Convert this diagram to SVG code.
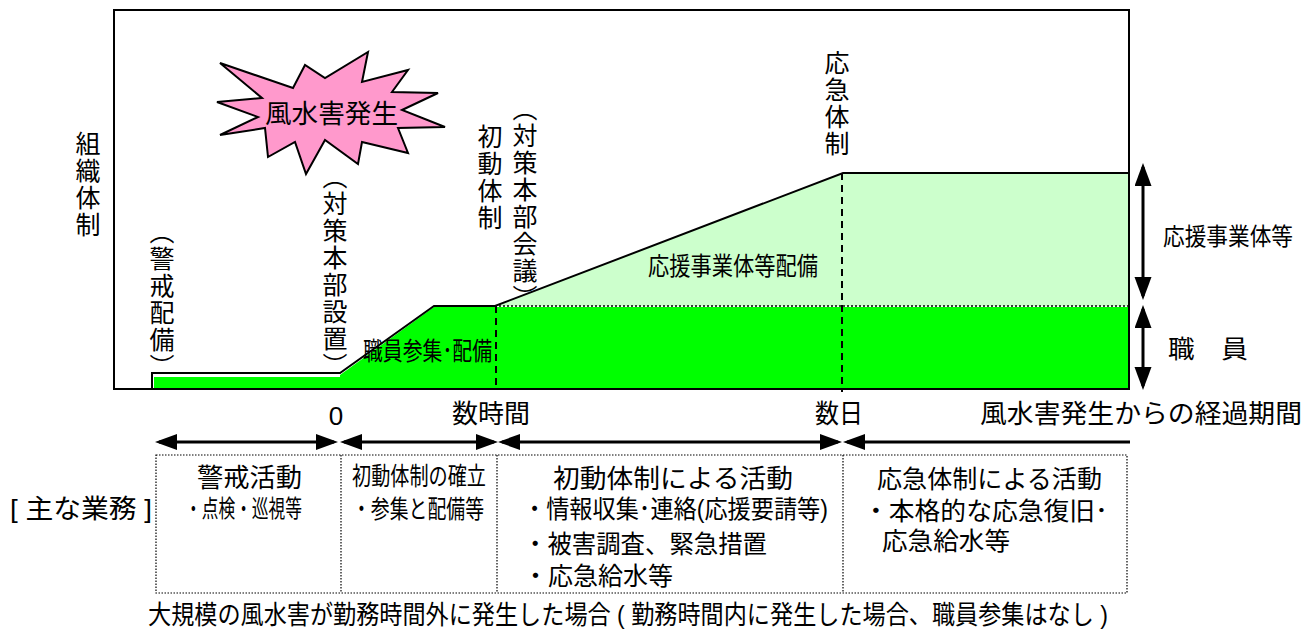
<svg xmlns="http://www.w3.org/2000/svg" width="1315" height="632" viewBox="0 0 1315 632">
<style>
text{font-family:"Liberation Sans","Noto Sans CJK JP",sans-serif;fill:#000}
.v{writing-mode:vertical-rl;font-size:25px;letter-spacing:2px}
.h24{font-size:24px}
.h25{font-size:25px}
.h26{font-size:26px}
.ol{fill:none;stroke:#000;stroke-width:2}
.dash{stroke:#000;stroke-width:2;stroke-dasharray:7 5}
.dot{stroke:#000;stroke-width:1.2;stroke-dasharray:1.5 1.5;fill:none}
.arr{stroke:#000;stroke-width:3;fill:none}
</style>
<defs>
<marker id="ah" markerUnits="userSpaceOnUse" markerWidth="24" markerHeight="18" refX="18" refY="8" orient="auto-start-reverse" viewBox="0 0 24 18">
<path d="M0,0 L22,8 L0,16 z" fill="#000"/>
</marker>
<marker id="av" markerUnits="userSpaceOnUse" markerWidth="26" markerHeight="20" refX="19" refY="8.5" orient="auto-start-reverse" viewBox="0 0 26 20">
<path d="M0,0 L23,8.5 L0,17 z" fill="#000"/>
</marker>
</defs>
<rect width="1315" height="632" fill="#fff"/>

<g id="chart-areas">
<rect x="154" y="377" width="188" height="12" fill="#00ff00"/>
<polygon points="340,375 434,307 1129,307 1129,389 340,389" fill="#00ff00"/>
<polygon points="495,306 843,173 1129,173 1129,306" fill="#ccffcc"/>
<polyline class="ol" points="152,389 152,373 340,373 434,306 495,306 843,173 1129,173"/>
<line class="dot" x1="495" y1="306" x2="1129" y2="306" style="stroke-width:1.5;stroke-dasharray:2 2"/>
<line class="dash" x1="496" y1="306" x2="496" y2="389"/>
<line class="dash" x1="842" y1="173" x2="842" y2="392"/>
<text class="h25" x="648" y="275" textLength="170" lengthAdjust="spacingAndGlyphs">応援事業体等配備</text>
<text class="h25" x="363" y="360" textLength="129" lengthAdjust="spacingAndGlyphs">職員参集･配備</text>
</g>

<g id="frame">
<rect x="114" y="10" width="1015" height="379" fill="none" stroke="#000" stroke-width="2"/>
</g>

<g id="star">
<polygon points="220,63 293,88 305,65 325,78 368,52 362,82 408,70 392,92 438,93 402,110 445,127 398,128 408,153 362,142 358,164 325,140 306,174 295,142 268,157 265,128 220,135 258,117 217,102 262,98" fill="#ff99cc" stroke="#000" stroke-width="2" stroke-linejoin="miter"/>
<text class="h26" x="265" y="123" textLength="133" lengthAdjust="spacingAndGlyphs">風水害発生</text>
</g>

<g id="vertical-labels">
<text class="v" x="86" y="131">組織体制</text>
<text class="v" x="160" y="219">（警戒配備）</text>
<text class="v" x="333" y="164">（対策本部設置）</text>
<text class="v" x="488" y="124">初動体制</text>
<text class="v" x="523" y="96">（対策本部会議）</text>
<text class="v" x="835" y="50">応急体制</text>
</g>

<g id="right-labels">
<text class="h24" x="1163" y="245" textLength="130" lengthAdjust="spacingAndGlyphs">応援事業体等</text>
<text class="h25" x="1168" y="358" textLength="80" lengthAdjust="spacingAndGlyphs">職　員</text>
</g>

<g id="axis-labels">
<text class="h26" x="336" y="425" text-anchor="middle">0</text>
<text class="h26" x="452" y="423" textLength="78" lengthAdjust="spacingAndGlyphs">数時間</text>
<text class="h26" x="815" y="423" textLength="48" lengthAdjust="spacingAndGlyphs">数日</text>
<text class="h26" x="980" y="423" textLength="322" lengthAdjust="spacingAndGlyphs">風水害発生からの経過期間</text>
</g>

<g id="connectors">
<line class="arr" x1="159" y1="442" x2="334" y2="442" marker-start="url(#ah)" marker-end="url(#ah)"/>
<line class="arr" x1="344" y1="442" x2="494" y2="442" marker-start="url(#ah)" marker-end="url(#ah)"/>
<line class="arr" x1="502" y1="442" x2="838" y2="442" marker-start="url(#ah)" marker-end="url(#ah)"/>
<line class="arr" x1="847" y1="442" x2="1130" y2="442" marker-start="url(#ah)"/>
<line class="arr" x1="1143" y1="167" x2="1143" y2="296" marker-start="url(#av)" marker-end="url(#av)"/>
<line class="arr" x1="1143" y1="309" x2="1143" y2="386" marker-start="url(#av)" marker-end="url(#av)"/>
</g>

<g id="table">
<rect class="dot" x="156" y="455" width="971" height="138"/>
<line class="dot" x1="341" y1="455" x2="341" y2="593"/>
<line class="dot" x1="497" y1="455" x2="497" y2="593"/>
<line class="dot" x1="843" y1="455" x2="843" y2="593"/>
<text class="h26" x="10" y="518" textLength="142" lengthAdjust="spacingAndGlyphs">[ 主な業務 ]</text>
<text class="h26" x="197" y="487" textLength="105" lengthAdjust="spacingAndGlyphs">警戒活動</text>
<text class="h24" x="185" y="517" textLength="117" lengthAdjust="spacingAndGlyphs">・点検・巡視等</text>
<text class="h25" x="352" y="485" textLength="134" lengthAdjust="spacingAndGlyphs">初動体制の確立</text>
<text class="h25" x="352" y="518" textLength="132" lengthAdjust="spacingAndGlyphs">・参集と配備等</text>
<text class="h26" x="553" y="488" textLength="240" lengthAdjust="spacingAndGlyphs">初動体制による活動</text>
<text class="h25" x="523" y="518" textLength="305" lengthAdjust="spacingAndGlyphs">・情報収集･連絡(応援要請等)</text>
<text class="h25" x="523" y="553" textLength="244" lengthAdjust="spacingAndGlyphs">・被害調査、緊急措置</text>
<text class="h25" x="523" y="585" textLength="150" lengthAdjust="spacingAndGlyphs">・応急給水等</text>
<text class="h25" x="877" y="488" textLength="225" lengthAdjust="spacingAndGlyphs">応急体制による活動</text>
<text class="h25" x="863" y="520" textLength="245" lengthAdjust="spacingAndGlyphs">・本格的な応急復旧･</text>
<text class="h25" x="882" y="550" textLength="128" lengthAdjust="spacingAndGlyphs">応急給水等</text>
</g>

<g id="caption">
<text class="h26" x="148" y="624" textLength="960" lengthAdjust="spacingAndGlyphs">大規模の風水害が勤務時間外に発生した場合 ( 勤務時間内に発生した場合、職員参集はなし )</text>
</g>
</svg>
